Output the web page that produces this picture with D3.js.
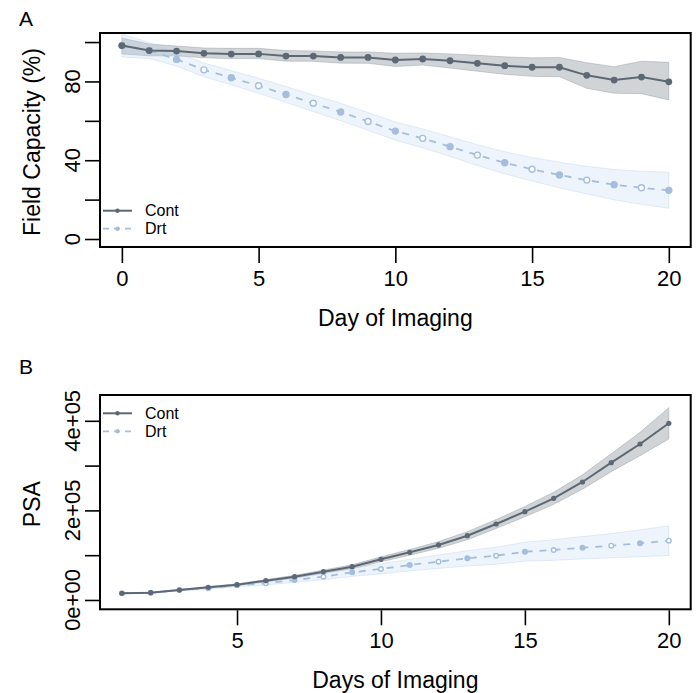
<!DOCTYPE html>
<html>
<head>
<meta charset="utf-8">
<script src="https://cdn.jsdelivr.net/npm/d3@7"></script>
<style>
  html, body { margin: 0; padding: 0; background: #fff; }
  svg { display: block; font-family: "Liberation Sans", Arial, Helvetica, sans-serif; }
</style>
</head>
<body>
<svg id="chart" width="700" height="693"></svg>
<script>
// ---------- Data ----------
// Panel A: Field capacity (%) by day of imaging (days 0..20)
const daysA = d3.range(0, 21);
const contFC      = [98.2, 95.7, 95.4, 94.3, 93.9, 94.0, 92.9, 92.9, 92.2, 92.2, 90.9, 91.4, 90.5, 89.2, 88.0, 87.2, 87.2, 83.1, 80.7, 82.2, 79.8];
const contFCLower = [94.0, 93.0, 93.0, 92.0, 91.6, 91.6, 90.3, 90.2, 89.3, 89.2, 87.6, 88.3, 86.8, 85.2, 83.6, 82.6, 82.4, 76.5, 74.0, 73.8, 70.6];
const contFCUpper = [102.0, 99.0, 98.0, 97.0, 96.8, 96.8, 95.7, 95.5, 95.0, 95.0, 94.3, 94.5, 94.0, 93.3, 92.5, 92.0, 92.2, 89.5, 87.5, 90.3, 89.7];
const drtFC       = [98.2, 95.7, 91.2, 85.9, 81.9, 77.8, 73.4, 68.9, 64.5, 59.7, 54.8, 51.1, 46.9, 42.6, 38.7, 35.4, 32.5, 29.9, 27.6, 26.0, 24.7];
const drtFCLower  = [92.4, 91.7, 87.8, 82.4, 78.3, 74.0, 69.4, 64.7, 60.1, 55.2, 50.2, 46.3, 41.9, 37.3, 33.1, 29.4, 26.0, 22.9, 19.9, 17.6, 15.6];
const drtFCUpper  = [104.0, 99.7, 94.6, 89.4, 85.5, 81.6, 77.4, 73.1, 68.9, 64.2, 59.4, 55.9, 51.9, 47.9, 44.3, 41.4, 39.0, 36.9, 35.3, 34.4, 33.9];

// Panel B: PSA by day of imaging (days 1..20)
const daysB = d3.range(1, 21);
const contPSA      = [15000, 16300, 22300, 28300, 34200, 43100, 52000, 63200, 74300, 90800, 106400, 122800, 143500, 169600, 197100, 227000, 263400, 306500, 348200, 394400];
const contPSALower = [14000, 15300, 21100, 26800, 32200, 40600, 49000, 59700, 69800, 85300, 99900, 115300, 134500, 159600, 185600, 213500, 247400, 286500, 322200, 359400];
const contPSAUpper = [16000, 17300, 23500, 29800, 36200, 45600, 55000, 66700, 78800, 96300, 112900, 130300, 152500, 179600, 208600, 240500, 279400, 326500, 374200, 429400];
const drtPSA       = [15000, 16300, 22300, 26100, 32800, 37300, 44600, 52000, 61800, 69200, 78100, 85500, 93000, 98900, 107800, 111600, 116700, 121200, 126500, 132400];
const drtPSALower  = [14000, 15300, 20800, 24100, 29800, 33300, 39600, 45000, 52800, 58200, 65100, 70500, 76000, 79900, 86800, 88600, 91700, 94200, 96500, 99400];
const drtPSAUpper  = [16000, 17300, 23800, 28100, 35800, 41300, 49600, 59000, 70800, 80200, 91100, 100500, 110000, 117900, 128800, 134600, 141700, 148200, 156500, 165400];

// Axis ticks / labels
const xTicksA = [0, 5, 10, 15, 20];
const yTicksA = [0, 20, 40, 60, 80, 100];
const yLabelsA = [0, 40, 80];
const xTicksB = [5, 10, 15, 20];
const yTicksB = [0, 100000, 200000, 300000, 400000];
const yLabelsB = [0, 200000, 400000];
const yLabelTextB = ["0e+00", "2e+05", "4e+05"];
const seriesNames = ["Cont", "Drt"];

// ---------- Styles ----------
const contColor = "#5d6875";
const drtColor = "#a5bedd";
const contBandFill = "rgba(110,120,132,0.32)";
const contBandStroke = "rgba(110,120,132,0.30)";
const drtBandFill = "rgba(185,210,238,0.24)";
const drtBandStroke = "rgba(185,210,238,0.40)";
const tickFont = 22, titleFont = 23, legendFont = 16, panelFont = 21;

const svg = d3.select("#chart");
const boxL = 100, boxR = 690.7;

function panel(cfg) {
  const { top, bottom, xDomain, yDomain, days, cont, contLo, contHi, drt, drtLo, drtHi,
          xTicks, yTicks, yLabels, yLabelText, xTitle, yTitle, label, labelY, legendY, mR } = cfg;
  const x = d3.scaleLinear().domain(xDomain).range([boxL, boxR]);
  const y = d3.scaleLinear().domain(yDomain).range([bottom, top]);
  const g = svg.append("g");

  // bands
  const area = (lo, hi) => d3.area().x((d, i) => x(days[i])).y0((d, i) => y(lo[i])).y1((d, i) => y(hi[i]));
  g.append("path").attr("d", area(contLo, contHi)(days))
    .attr("fill", contBandFill).attr("stroke", contBandStroke).attr("stroke-width", 1);
  g.append("path").attr("d", area(drtLo, drtHi)(days))
    .attr("fill", drtBandFill).attr("stroke", drtBandStroke).attr("stroke-width", 1);

  const line = vals => d3.line().x((d, i) => x(days[i])).y((d, i) => y(vals[i]));
  // Drt line (dashed)
  g.append("path").attr("d", line(drt)(days)).attr("fill", "none")
    .attr("stroke", drtColor).attr("stroke-width", 1.8).attr("stroke-dasharray", "7,7");
  g.selectAll(".drtpt").data(days).enter().append("circle")
    .attr("cx", d => x(d)).attr("cy", (d, i) => y(drt[i])).attr("r", mR.drt)
    .attr("fill", (d, i) => i % 2 === 0 ? drtColor : "#fff")
    .attr("stroke", drtColor).attr("stroke-width", 1.4);
  // Cont line (solid)
  g.append("path").attr("d", line(cont)(days)).attr("fill", "none")
    .attr("stroke", contColor).attr("stroke-width", 2);
  g.selectAll(".contpt").data(days).enter().append("circle")
    .attr("cx", d => x(d)).attr("cy", (d, i) => y(cont[i])).attr("r", mR.cont)
    .attr("fill", contColor);

  // x axis ticks
  const xAxis = d3.axisBottom(x).tickValues(xTicks).tickSize(15).tickSizeOuter(0).tickPadding(7)
    .tickFormat(d3.format("d"));
  const xa = g.append("g").attr("transform", `translate(0,${bottom + 1})`).call(xAxis);
  xa.select(".domain").remove();
  xa.selectAll("line").attr("stroke", "#000").attr("stroke-width", 1.6);
  xa.selectAll("text").attr("font-size", tickFont).attr("fill", "#000")
    .attr("font-family", "Liberation Sans, Arial, sans-serif");
  // y axis ticks
  const yAxis = d3.axisLeft(y).tickValues(yTicks).tickSize(15).tickSizeOuter(0).tickFormat("");
  const ya = g.append("g").attr("transform", `translate(${boxL},0)`).call(yAxis);
  ya.select(".domain").remove();
  ya.selectAll("line").attr("stroke", "#000").attr("stroke-width", 1.6);
  // y tick labels, rotated
  yLabels.forEach((v, i) => {
    g.append("text").attr("transform", `translate(80,${y(v)}) rotate(-90)`)
      .attr("text-anchor", "middle").attr("font-size", tickFont).attr("fill", "#000")
      .text(yLabelText ? yLabelText[i] : String(v));
  });

  // box
  g.append("rect").attr("x", boxL).attr("y", top).attr("width", boxR - boxL).attr("height", bottom - top)
    .attr("fill", "none").attr("stroke", "#000").attr("stroke-width", 2);

  // titles
  g.append("text").attr("x", (boxL + boxR) / 2).attr("y", bottom + 79).attr("text-anchor", "middle")
    .attr("font-size", titleFont).attr("fill", "#000").text(xTitle);
  g.append("text").attr("transform", `translate(40,${(top + bottom) / 2 + 2}) rotate(-90)`)
    .attr("text-anchor", "middle").attr("font-size", titleFont).attr("fill", "#000").text(yTitle);
  g.append("text").attr("x", 19).attr("y", labelY).attr("font-size", panelFont).attr("fill", "#000").text(label);

  // legend
  const lg = g.append("g");
  seriesNames.forEach((name, i) => {
    const ly = legendY + i * 18;
    const isCont = i === 0;
    lg.append("line").attr("x1", 103).attr("x2", 132).attr("y1", ly).attr("y2", ly)
      .attr("stroke", isCont ? contColor : drtColor).attr("stroke-width", isCont ? 2 : 1.8)
      .attr("stroke-dasharray", isCont ? null : "6,5");
    lg.append("circle").attr("cx", 117.5).attr("cy", ly).attr("r", 2.2)
      .attr("fill", isCont ? contColor : drtColor);
    lg.append("text").attr("x", 145).attr("y", ly + 5.5).attr("font-size", legendFont)
      .attr("fill", "#000").text(name);
  });
}

panel({
  top: 33, bottom: 247, xDomain: [-0.8, 20.8], yDomain: [-4.06, 104.6],
  days: daysA, cont: contFC, contLo: contFCLower, contHi: contFCUpper,
  drt: drtFC, drtLo: drtFCLower, drtHi: drtFCUpper,
  xTicks: xTicksA, yTicks: yTicksA, yLabels: yLabelsA, yLabelText: null,
  xTitle: "Day of Imaging", yTitle: "Field Capacity (%)", label: "A", labelY: 25.5, legendY: 210.7,
  mR: { cont: 3.4, drt: 3.0 }
});

panel({
  top: 395, bottom: 609.3, xDomain: [0.24, 20.76], yDomain: [-20800, 457600],
  days: daysB, cont: contPSA, contLo: contPSALower, contHi: contPSAUpper,
  drt: drtPSA, drtLo: drtPSALower, drtHi: drtPSAUpper,
  xTicks: xTicksB, yTicks: yTicksB, yLabels: yLabelsB, yLabelText: yLabelTextB,
  xTitle: "Days of Imaging", yTitle: "PSA", label: "B", labelY: 373.5, legendY: 413.3,
  mR: { cont: 2.6, drt: 2.3 }
});
</script>
</body>
</html>
